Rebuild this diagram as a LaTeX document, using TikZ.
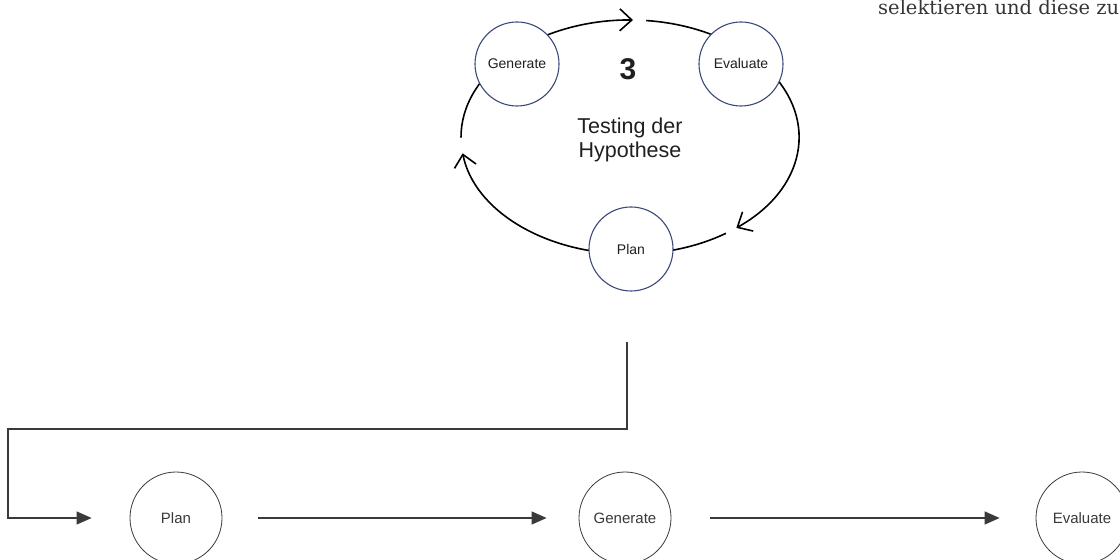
\documentclass[tikz,border=0pt]{standalone}
\usepackage{fontspec}
\setmainfont{Liberation Sans}
\newfontfamily\serifbook{DejaVu Serif}
\usetikzlibrary{arrows.meta}
\definecolor{ring}{HTML}{3B4A78}
\definecolor{ink}{HTML}{1F1F1F}
\definecolor{gline}{HTML}{3A3A3A}
\begin{document}
\begin{tikzpicture}[x=1pt,y=1pt,
  topc/.style={circle,draw=ring,line width=1.1pt,fill=white,minimum size=84pt,inner sep=0pt,font=\fontsize{14}{16}\selectfont,text=ink},
  botc/.style={circle,draw=gline,line width=0.8pt,fill=white,minimum size=92pt,inner sep=0pt,font=\fontsize{15}{18}\selectfont,text=gline},
  cyc/.style={line width=1.6pt,draw=black},
  barb/.style={-{Straight Barb[length=12pt,width=22pt]}},
  barrow/.style={draw=gline,line width=1.3pt,-{Triangle[length=15pt,width=13pt]}}
]
\useasboundingbox (0,0) rectangle (1120,560);
\coordinate (c) at (630,423);
% cycle arcs
\draw[cyc,barb] ([shift={(125:169 and 117)}]c) arc[start angle=125,end angle=89,x radius=169,y radius=117];
\draw[cyc] ([shift={(84.5:169 and 117)}]c) arc[start angle=84.5,end angle=55,x radius=169,y radius=117];
\draw[cyc,barb] ([shift={(35:169 and 117)}]c) arc[start angle=35,end angle=-51,x radius=169,y radius=117];
\draw[cyc] ([shift={(-55.4:169 and 117)}]c) arc[start angle=-55.4,end angle=-90,x radius=169,y radius=117];
\draw[cyc,barb] ([shift={(270:169 and 117)}]c) arc[start angle=270,end angle=188,x radius=169,y radius=117];
\draw[cyc] ([shift={(180.3:169 and 117)}]c) arc[start angle=180.3,end angle=135,x radius=169,y radius=117];
% top circles
\node[topc] (tgen) at (517,496) {Generate};
\node[topc] (teval) at (741,496) {Evaluate};
\node[topc] (tplan) at (631,311) {Plan};
\node[font=\bfseries\fontsize{30}{32}\selectfont,text=ink] (num) at (628,491) {3};
\node[align=center,font=\fontsize{21.5}{24.5}\selectfont,text=ink] (title) at (630,420) {Testing der\\Hypothese};
% cut-off text
\node[anchor=base west,font=\serifbook\fontsize{19.5}{24}\selectfont,text=ink!90,inner sep=0pt] (cut) at (878,545) {selektieren und diese zu};
% bottom row
\node[botc] (bplan) at (176,42) {Plan};
\node[botc] (bgen) at (625,42) {Generate};
\node[botc] (beval) at (1082,42) {Evaluate};
\draw[barrow] ([xshift=36pt]bplan.east) -- ([xshift=-32pt]bgen.west);
\draw[barrow] ([xshift=39pt]bgen.east) -- ([xshift=-36pt]beval.west);
\coordinate (drop) at (627,218);
\coordinate (corner) at (8,131);
\draw[barrow] (drop) |- (corner) |- ([xshift=-38pt]bplan.west);
\end{tikzpicture}
\end{document}
